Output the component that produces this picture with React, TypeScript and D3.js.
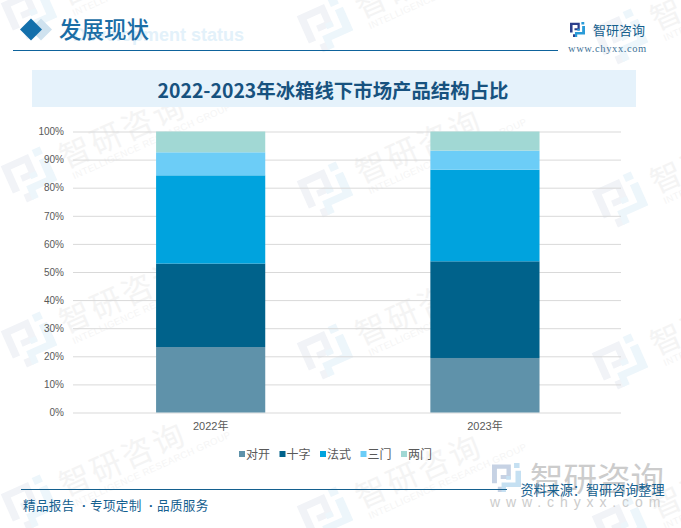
import { useEffect, useRef } from 'react'
import * as d3 from 'd3'

const years = ['2022年', '2023年']
const seriesNames = ['对开', '十字', '法式', '三门', '两门']
const seriesColors = ['#5f92aa', '#00628b', '#00a3de', '#6ccdf7', '#a1d8d4']
const share2022 = [23.3, 29.7, 31.4, 8.2, 7.4]
const share2023 = [19.4, 34.4, 32.6, 6.8, 6.8]
const yTicks = [0, 10, 20, 30, 40, 50, 60, 70, 80, 90, 100]
const footerParts = ['精品报告', '专项定制', '品质服务']

// watermark tile anchors, one list per column
const markColumns = [32, 328, 623]
const markRows = [[12, 175, 340, 503], [25, 190, 352, 515], [37, 200, 362, 525]]

const CJK = '"Noto Sans CJK SC", sans-serif'
const LATIN = '"Liberation Sans", Arial, sans-serif'

// logo in a 20x20 box: navy half, blue half
const logoLeft = 'M0 1H13V11H6V8.2H10V4H3.4V14H0ZM4 16.4H7.6V20H4Z'
const logoRight = 'M15.2 0H19V3.4H15.2ZM16.2 5.4H20V16.6H9.6V20H6.6V13.4H16.2ZM9.8 9H13V11.6H9.8Z'

const App = () => {
  const canvas = useRef<SVGSVGElement>(null)

  useEffect(() => {
    const svg = d3.select(canvas.current)
    svg.selectAll('*').remove()

    const addLogo = (g: any, x: number, y: number, size: number, c1: string, c2: string) => {
      const l = g.append('g').attr('transform', `translate(${x},${y}) scale(${size / 20})`)
      l.append('path').attr('d', logoLeft).attr('fill', c1)
      l.append('path').attr('d', logoRight).attr('fill', c2)
    }

    // Repeating watermark
    const marks = svg.append('g')
    markColumns.forEach((cx, i) => {
      markRows[i].forEach((cy) => {
        const t = marks.append('g').attr('transform', `translate(${cx},${cy}) rotate(-24)`)
        addLogo(t, -25, -23, 46, '#f1f3f7', '#edf6fb')
        t.append('text').text('智研咨询')
          .attr('x', 33).attr('y', 8)
          .attr('font-family', CJK).attr('font-size', 31).attr('letter-spacing', 3)
          .attr('fill', '#f4f4f4')
        t.append('text').text('INTELLIGENCE RESEARCH GROUP')
          .attr('x', 37).attr('y', 21)
          .attr('font-family', LATIN).attr('font-size', 9.5).attr('letter-spacing', 0.4)
          .attr('fill', '#f5f5f5')
      })
    })

    // Header
    svg.append('text').text('Development status')
      .attr('x', 244).attr('y', 41).attr('text-anchor', 'end')
      .attr('font-family', LATIN).attr('font-weight', 700).attr('font-size', 18)
      .attr('fill', '#e3f1fa')
    const diamond = d3.symbol().type(d3.symbolSquare).size(242)
    svg.append('path').attr('d', diamond()).attr('transform', 'translate(41,29.5) rotate(45)').attr('fill', '#cfe2ef')
    svg.append('path').attr('d', diamond()).attr('transform', 'translate(31,29.5) rotate(45)').attr('fill', '#136fab')
    svg.append('text').text('发展现状')
      .attr('x', 59).attr('y', 37.5)
      .attr('font-family', CJK).attr('font-weight', 500).attr('font-size', 22.5)
      .attr('fill', '#1b6ea6')
    svg.append('line').attr('x1', 13).attr('x2', 558).attr('y1', 50.5).attr('y2', 50.5)
      .attr('stroke', '#0e639c').attr('stroke-width', 1)

    addLogo(svg, 570, 22, 15, '#2b3f8c', '#2a9bd8')
    svg.append('text').text('智研咨询')
      .attr('x', 593).attr('y', 34.5)
      .attr('font-family', CJK).attr('font-size', 13).attr('fill', '#165f8d')
    svg.append('text').text('www.chyxx.com')
      .attr('x', 568).attr('y', 52)
      .attr('font-family', '"Liberation Serif", serif').attr('font-size', 10.5)
      .attr('letter-spacing', 0.6).attr('fill', '#3f7397')

    // Chart title band
    svg.append('rect').attr('x', 32).attr('y', 70).attr('width', 604).attr('height', 37).attr('fill', '#e5f2fb')
    svg.append('text').text('2022-2023年冰箱线下市场产品结构占比')
      .attr('x', 333).attr('y', 98).attr('text-anchor', 'middle')
      .attr('font-family', CJK).attr('font-weight', 700).attr('font-size', 19.4)
      .attr('fill', '#17527f')

    // Scales
    const x = d3.scaleBand().domain(years).range([73.8, 621.8]).paddingInner(0.602).paddingOuter(0.3)
    const y = d3.scaleLinear().domain([0, 100]).range([412.5, 131.5])

    // Gridlines and y axis
    const yAxis = svg.append('g')
      .attr('transform', 'translate(73,0)')
      .call(d3.axisLeft(y).tickValues(yTicks).tickFormat((d) => `${d}%`).tickSize(-548).tickPadding(9))
    yAxis.select('.domain').remove()
    yAxis.selectAll('line').attr('stroke', '#d9d9d9').attr('stroke-width', 1)
    yAxis.selectAll('text').attr('fill', '#595959').attr('font-family', LATIN).attr('font-size', 10)

    // Stacked bars
    const rows = years.map((year, i) => {
      const values = i === 0 ? share2022 : share2023
      const row: any = { year }
      seriesNames.forEach((name, j) => { row[name] = values[j] })
      return row
    })
    const stacked = d3.stack().keys(seriesNames)(rows)
    svg.append('g')
      .selectAll('g')
      .data(stacked)
      .join('g')
      .attr('fill', (d, i) => seriesColors[i])
      .selectAll('rect')
      .data((d) => d)
      .join('rect')
      .attr('x', (d: any) => x(d.data.year))
      .attr('y', (d) => y(d[1]))
      .attr('width', x.bandwidth())
      .attr('height', (d) => y(d[0]) - y(d[1]))

    // X axis labels
    const xAxis = svg.append('g')
      .attr('transform', 'translate(0,412.5)')
      .call(d3.axisBottom(x).tickSize(0).tickPadding(10))
    xAxis.select('.domain').remove()
    xAxis.selectAll('text').attr('fill', '#595959').attr('font-family', `${LATIN.split(',')[0]}, ${CJK}`).attr('font-size', 11)

    // Legend
    const legend = svg.append('g')
    const legendX = d3.scalePoint().domain(seriesNames).range([239, 401])
    seriesNames.forEach((name, i) => {
      legend.append('rect')
        .attr('x', legendX(name)).attr('y', 451).attr('width', 6).attr('height', 6)
        .attr('fill', seriesColors[i])
      legend.append('text').text(name)
        .attr('x', legendX(name) + 7).attr('y', 458.5)
        .attr('font-family', CJK).attr('font-size', 12).attr('fill', '#595959')
    })

    // Bottom right watermark
    addLogo(svg, 492, 463, 29, '#c6d2e4', '#c5e0f2')
    svg.append('text').text('智研咨询')
      .attr('x', 530).attr('y', 491)
      .attr('font-family', CJK).attr('font-size', 33.5)
      .attr('fill', '#cccccc')
    svg.append('text').text('www.chyxx.com')
      .attr('x', 490).attr('y', 507)
      .attr('font-family', LATIN).attr('font-size', 14).attr('letter-spacing', 5.9)
      .attr('fill', '#cccccc')

    // Footer
    svg.append('line').attr('x1', 21).attr('x2', 507).attr('y1', 489.5).attr('y2', 489.5)
      .attr('stroke', '#14608f').attr('stroke-width', 1)
    const footerX = d3.scalePoint().domain(footerParts).range([23, 157])
    footerParts.forEach((part, i) => {
      svg.append('text').text(part)
        .attr('x', footerX(part)).attr('y', 509.5)
        .attr('font-family', CJK).attr('font-size', 12.6).attr('letter-spacing', 0.3)
        .attr('fill', '#14608f')
      if (i < footerParts.length - 1) {
        svg.append('text').text('·')
          .attr('x', footerX(part) + 59).attr('y', 509.5)
          .attr('font-family', LATIN).attr('font-weight', 700).attr('font-size', 13)
          .attr('fill', '#14608f')
      }
    })
    svg.append('text').text('资料来源：智研咨询整理')
      .attr('x', 520.5).attr('y', 495)
      .attr('font-family', CJK).attr('font-size', 13.1).attr('fill', '#14608f')
  }, [])

  return (
    <svg
      ref={canvas}
      width={681}
      height={528}
      viewBox="0 0 681 528"
      style={{ position: 'absolute', left: 0, top: 0, background: '#fff' }}
    />
  )
}

export default App
